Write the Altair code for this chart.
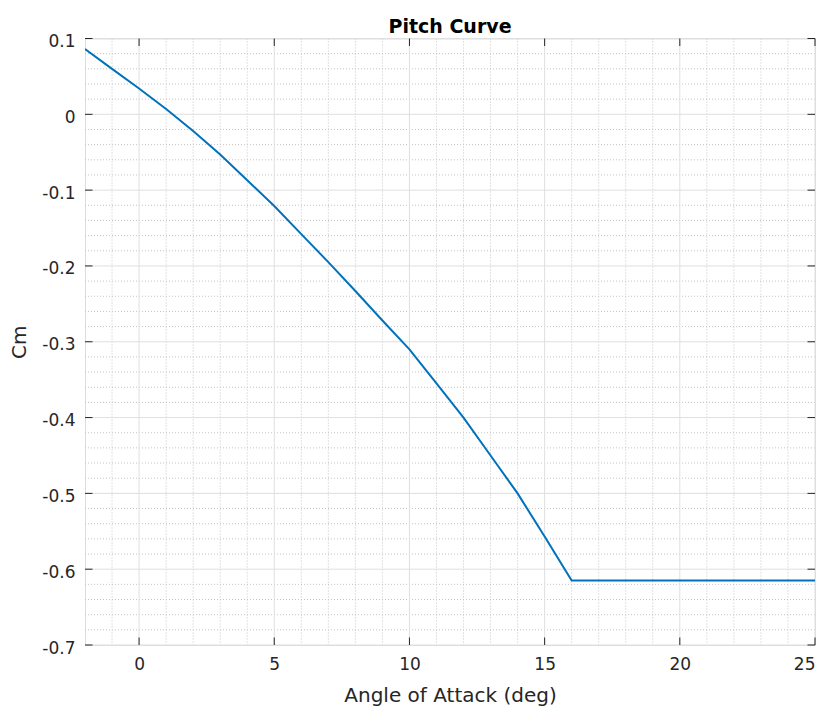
import altair as alt
import pandas as pd

# Data
aoa = [-2, -1, 0, 1, 2, 3, 4, 5, 6, 7, 8, 9, 10, 11, 12, 13, 14, 15, 16,
       17, 18, 19, 20, 21, 22, 23, 24, 25]
cm = [0.086, 0.060, 0.034, 0.007, -0.022, -0.053, -0.087, -0.121, -0.158,
      -0.195, -0.233, -0.272, -0.310, -0.355, -0.400, -0.450, -0.500, -0.557,
      -0.615, -0.615, -0.615, -0.615, -0.615, -0.615, -0.615, -0.615, -0.615,
      -0.615]

x_major = [0, 5, 10, 15, 20, 25]
y_major = [-0.7, -0.6, -0.5, -0.4, -0.3, -0.2, -0.1, 0.0, 0.1]
x_minor = [-1, 1, 2, 3, 4, 6, 7, 8, 9, 11, 12, 13, 14, 16, 17, 18, 19,
           21, 22, 23, 24]
y_minor = [-0.68, -0.66, -0.64, -0.62, -0.58, -0.56, -0.54, -0.52,
           -0.48, -0.46, -0.44, -0.42, -0.38, -0.36, -0.34, -0.32,
           -0.28, -0.26, -0.24, -0.22, -0.18, -0.16, -0.14, -0.12,
           -0.08, -0.06, -0.04, -0.02, 0.02, 0.04, 0.06, 0.08]

W, H = 730, 606.5
TICK = 7.5
FONT = "DejaVu Sans"

xs = alt.Scale(domain=[-2, 25], nice=False, zero=False)
ys = alt.Scale(domain=[-0.7, 0.1], nice=False, zero=False)

ax_x = alt.Axis(values=x_major, grid=False, domain=False, ticks=False,
                labelPadding=11, labelFontSize=17,
                labelFont=FONT, labelColor="#262626",
                format="d", labelBaseline="top",
                titleFontSize=20, titleFont=FONT, titleFontWeight="normal",
                titleColor="#262626", titleY=56.5,
                titleBaseline="alphabetic")
ax_y = alt.Axis(values=y_major, grid=False, domain=False, ticks=False,
                labelPadding=10, labelFontSize=17,
                labelFont=FONT, labelColor="#262626", labelOffset=3,
                labelExpr="datum.value == 0 ? '0' : (datum.value < 0 ? '-' + format(-datum.value, '.1f') : format(datum.value, '.1f'))",
                titleFontSize=20, titleFont=FONT, titleFontWeight="normal",
                titleColor="#262626", titleAngle=270, titleX=-66,
                titleY=H / 2, titleAlign="center",
                titleBaseline="middle")
XT = "Angle of Attack (deg)"
YT = "Cm"

df = pd.DataFrame({"aoa": aoa, "cm": cm})
dxmin = pd.DataFrame({"x": x_minor})
dymin = pd.DataFrame({"y": y_minor})
dxmaj = pd.DataFrame({"x": x_major})
dymaj = pd.DataFrame({"y": y_major})


def X(f):
    return alt.X(f, scale=xs, axis=ax_x, title=XT)


def Y(f):
    return alt.Y(f, scale=ys, axis=ax_y, title=YT)


minor_x = alt.Chart(dxmin).mark_rule(color="#c4c4c4", strokeDash=[1, 2], strokeWidth=1).encode(
    x=X("x:Q"))
minor_y = alt.Chart(dymin).mark_rule(color="#c4c4c4", strokeDash=[1, 2], strokeWidth=1).encode(
    y=Y("y:Q"))
major_x = alt.Chart(dxmaj).mark_rule(color="#dfdfdf", strokeWidth=1).encode(
    x=X("x:Q"))
major_y = alt.Chart(dymaj).mark_rule(color="#dfdfdf", strokeWidth=1).encode(
    y=Y("y:Q"))

tick_color = "#262626"
ticks_bottom = alt.Chart(dxmaj).mark_rule(color=tick_color, strokeWidth=1).encode(
    x=X("x:Q"), y=alt.value(H), y2=alt.value(H - TICK))
ticks_top = alt.Chart(dxmaj).mark_rule(color=tick_color, strokeWidth=1).encode(
    x=X("x:Q"), y=alt.value(0), y2=alt.value(TICK))
ticks_left = alt.Chart(dymaj).mark_rule(color=tick_color, strokeWidth=1).encode(
    y=Y("y:Q"), x=alt.value(0), x2=alt.value(TICK))
ticks_right = alt.Chart(dymaj).mark_rule(color=tick_color, strokeWidth=1).encode(
    y=Y("y:Q"), x=alt.value(W), x2=alt.value(W - TICK))

line = alt.Chart(df).mark_line(color="#0072BD", strokeWidth=2, clip=True).encode(
    x=X("aoa:Q"), y=Y("cm:Q"))

chart = alt.layer(
    minor_x, minor_y, major_x, major_y, line,
    ticks_bottom, ticks_top, ticks_left, ticks_right,
).properties(
    width=W, height=H,
    title=alt.TitleParams("Pitch Curve", font=FONT, fontSize=19, fontWeight="bold",
                          color="#000000", anchor="middle", offset=6,
                          baseline="alphabetic", frame="group", dy=25),
    autosize=alt.AutoSizeParams(type="none"),
    padding={"left": 77, "top": 30.5, "right": 6, "bottom": 63},
).configure_view(stroke="#262626", strokeWidth=1).configure(background="white")

chart.save("out.html", embed_options={"renderer": "svg", "actions": False})
